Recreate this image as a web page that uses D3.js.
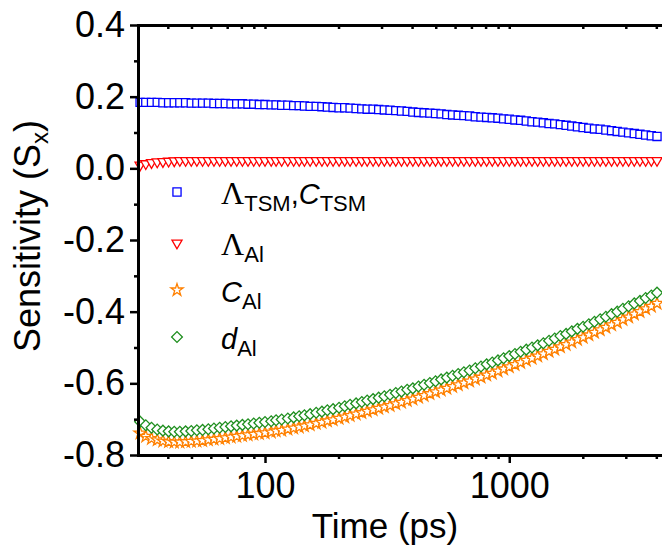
<!DOCTYPE html>
<html>
<head>
<meta charset="utf-8">
<script src="https://cdn.jsdelivr.net/npm/d3@7"></script>
<style>
  body { margin: 0; background: #fff; }
  svg { display: block; }
</style>
</head>
<body>
<div id="chart"></div>
<script>
// time points (ps) of the markers
const times = [30.8,32.5,34.3,36.2,38.2,40.3,42.5,44.8,47.3,49.9,52.6,55.5,58.6,61.8,65.2,68.8,72.6,76.6,80.8,85.2,89.9,94.8,
  100,106,111,117,124,131,138,145,153,162,171,180,190,201,212,223,236,249,262,277,292,308,325,343,362,382,403,425,448,473,499,526,555,586,618,652,688,726,766,808,852,899,948,
  1000,1055,1113,1174,1239,1307,1379,1455,1535,1619,1709,1803,1902,2006,2117,2233,2356,2486,2623,2767,2919,3080,3249,3428,3617,3816,4026];

const sLambdaTSM = [
  0.184,0.184,0.184,0.184,0.183,0.183,0.183,0.183,0.183,0.182,
  0.182,0.182,0.182,0.181,0.181,0.181,0.180,0.180,0.180,0.179,
  0.179,0.178,0.178,0.177,0.177,0.176,0.176,0.175,0.175,0.174,
  0.173,0.173,0.172,0.171,0.170,0.169,0.169,0.168,0.167,0.166,
  0.165,0.165,0.164,0.163,0.162,0.161,0.160,0.159,0.157,0.156,
  0.155,0.154,0.153,0.152,0.150,0.149,0.148,0.147,0.146,0.144,
  0.143,0.142,0.141,0.140,0.138,0.137,0.135,0.134,0.132,0.130,
  0.129,0.127,0.125,0.124,0.122,0.120,0.118,0.116,0.114,0.112,
  0.110,0.109,0.107,0.105,0.103,0.101,0.099,0.097,0.095,0.093,
  0.091,0.089];

const sLambdaAl = [
  0.009,0.013,0.016,0.018,0.019,0.020,0.021,0.022,0.022,0.022,
  0.022,0.022,0.022,0.022,0.022,0.022,0.022,0.022,0.022,0.022,
  0.022,0.022,0.022,0.022,0.022,0.022,0.022,0.022,0.022,0.022,
  0.022,0.022,0.022,0.022,0.022,0.022,0.022,0.022,0.022,0.022,
  0.022,0.022,0.022,0.022,0.022,0.022,0.022,0.022,0.022,0.022,
  0.022,0.022,0.022,0.022,0.022,0.022,0.022,0.022,0.022,0.022,
  0.022,0.022,0.022,0.022,0.022,0.022,0.022,0.022,0.022,0.022,
  0.022,0.022,0.022,0.022,0.022,0.022,0.022,0.022,0.022,0.022,
  0.022,0.022,0.022,0.022,0.022,0.022,0.022,0.022,0.022,0.022,
  0.022,0.022];

const sCAl = [
  -0.739,-0.748,-0.754,-0.758,-0.761,-0.763,-0.764,-0.764,-0.763,-0.762,
  -0.761,-0.760,-0.758,-0.756,-0.754,-0.752,-0.750,-0.748,-0.746,-0.744,
  -0.742,-0.740,-0.738,-0.736,-0.733,-0.731,-0.728,-0.725,-0.722,-0.719,
  -0.716,-0.712,-0.709,-0.705,-0.702,-0.698,-0.694,-0.690,-0.686,-0.682,
  -0.678,-0.674,-0.670,-0.666,-0.662,-0.657,-0.653,-0.648,-0.644,-0.639,
  -0.634,-0.629,-0.624,-0.619,-0.614,-0.609,-0.604,-0.599,-0.594,-0.588,
  -0.583,-0.577,-0.572,-0.566,-0.560,-0.554,-0.548,-0.542,-0.536,-0.530,
  -0.524,-0.518,-0.511,-0.505,-0.498,-0.492,-0.485,-0.478,-0.472,-0.465,
  -0.458,-0.451,-0.444,-0.437,-0.430,-0.422,-0.415,-0.407,-0.400,-0.392,
  -0.385,-0.377];

const sDAl = [
  -0.707,-0.717,-0.724,-0.729,-0.732,-0.734,-0.735,-0.735,-0.734,-0.733,
  -0.731,-0.730,-0.728,-0.726,-0.724,-0.722,-0.720,-0.718,-0.716,-0.714,
  -0.712,-0.710,-0.708,-0.706,-0.703,-0.701,-0.698,-0.695,-0.692,-0.689,
  -0.686,-0.682,-0.679,-0.675,-0.672,-0.668,-0.664,-0.660,-0.656,-0.652,
  -0.648,-0.644,-0.640,-0.636,-0.632,-0.627,-0.623,-0.618,-0.614,-0.609,
  -0.604,-0.599,-0.594,-0.589,-0.584,-0.579,-0.574,-0.569,-0.564,-0.558,
  -0.553,-0.547,-0.542,-0.536,-0.530,-0.524,-0.518,-0.512,-0.506,-0.500,
  -0.494,-0.488,-0.481,-0.475,-0.468,-0.462,-0.455,-0.448,-0.442,-0.435,
  -0.428,-0.421,-0.414,-0.407,-0.400,-0.392,-0.385,-0.377,-0.370,-0.362,
  -0.355,-0.347];

const xMajor = [100, 1000];
const xMinor = [40,50,60,70,80,90,200,300,400,500,600,700,800,900,2000,3000,4000];
const yMajor = [-0.8,-0.6,-0.4,-0.2,0.0,0.2,0.4];
const yMinor = [-0.7,-0.5,-0.3,-0.1,0.1,0.3];

const sans = "'Liberation Sans', Arial, sans-serif";
const serif = "'Liberation Serif', 'Times New Roman', serif";

const width = 662, height = 550;
const margin = {left: 138, top: 25, right: 662, bottom: 455};

const svg = d3.select("#chart").append("svg")
  .attr("width", width)
  .attr("height", height);

const x = d3.scaleLog().domain([30.2, 4220]).range([margin.left, margin.right]);
const y = d3.scaleLinear().domain([-0.8, 0.4]).range([margin.bottom, margin.top]);

// symbols
const series = [
  {vals: sLambdaTSM, color: "#0000ff", path: d3.symbol().type(d3.symbolSquare).size(66)(), rot: 0},
  {vals: sLambdaAl, color: "#ff0000", path: d3.symbol().type(d3.symbolTriangle).size(44)(), rot: 180},
  {vals: sCAl, color: "#ff8000", path: d3.symbol().type(d3.symbolStar).size(46)(), rot: 0},
  {vals: sDAl, color: "#1f8f1f", path: d3.symbol().type(d3.symbolSquare).size(58)(), rot: 45}
];

const plot = svg.append("g");
series.forEach(s => {
  plot.append("g")
    .selectAll("path")
    .data(times.map((t, i) => [t, s.vals[i]]))
    .join("path")
    .attr("d", s.path)
    .attr("transform", d => `translate(${x(d[0])},${y(d[1])}) rotate(${s.rot})`)
    .attr("fill", "#fff")
    .attr("stroke", s.color)
    .attr("stroke-width", 1.3);
});

// axes
function styleAxis(g) {
  g.attr("font-family", sans).attr("font-size", 36);
  g.select(".domain").attr("stroke-width", 3).attr("stroke-linecap", "square");
  g.selectAll(".tick line").attr("stroke-width", 2.5);
  g.selectAll(".tick text").attr("fill", "#000");
}

svg.append("g")
  .attr("transform", `translate(0,${margin.bottom})`)
  .call(d3.axisBottom(x).tickValues(xMinor).tickSize(4).tickSizeOuter(0).tickFormat(""))
  .call(g => g.select(".domain").remove())
  .call(g => g.selectAll(".tick line").attr("stroke-width", 2.5));

svg.append("g")
  .attr("transform", `translate(0,${margin.bottom})`)
  .call(d3.axisBottom(x).tickValues(xMajor).tickSize(8).tickSizeOuter(0).tickPadding(9).tickFormat(d3.format("d")))
  .call(styleAxis);

svg.append("g")
  .attr("transform", `translate(0,${margin.top})`)
  .call(d3.axisTop(x).tickValues(xMinor.concat(xMajor)).tickSize(-4).tickSizeOuter(0).tickFormat(""))
  .call(styleAxis);

svg.append("g")
  .attr("transform", `translate(${margin.left},0)`)
  .call(d3.axisLeft(y).tickValues(yMinor).tickSize(4).tickSizeOuter(0).tickFormat(""))
  .call(g => g.select(".domain").remove())
  .call(g => g.selectAll(".tick line").attr("stroke-width", 2.5));

svg.append("g")
  .attr("transform", `translate(${margin.left},0)`)
  .call(d3.axisLeft(y).tickValues(yMajor).tickSize(8).tickSizeOuter(0).tickPadding(5)
    .tickFormat(d => d3.format(".1f")(d).replace("\u2212", "-")))
  .call(styleAxis);

// axis titles
svg.append("text")
  .attr("x", 385)
  .attr("y", 538)
  .attr("text-anchor", "middle")
  .attr("font-family", sans)
  .attr("font-size", 35)
  .text("Time (ps)");

const yTitle = svg.append("text")
  .attr("transform", "translate(40,236) rotate(-90)")
  .attr("text-anchor", "middle")
  .attr("font-family", sans)
  .attr("font-size", 36);
yTitle.append("tspan").text("Sensitivity (S");
yTitle.append("tspan").attr("font-size", 24).attr("dy", 8).text("x");
yTitle.append("tspan").attr("dy", -8).text(")");

// legend
const legendRows = [
  [{t: "Λ", serif: true}, {t: "TSM", sub: true}, {t: ","}, {t: "C", italic: true}, {t: "TSM", sub: true}],
  [{t: "Λ", serif: true}, {t: "Al", sub: true}],
  [{t: "C", italic: true}, {t: "Al", sub: true}],
  [{t: "d", italic: true}, {t: "Al", sub: true}]
];
const legendY = [192, 243, 290, 337];

legendRows.forEach((parts, i) => {
  const s = series[i];
  svg.append("path")
    .attr("d", s.path)
    .attr("transform", `translate(177,${legendY[i]}) rotate(${s.rot})`)
    .attr("fill", "#fff")
    .attr("stroke", s.color)
    .attr("stroke-width", 1.3);
  const txt = svg.append("text")
    .attr("x", 221)
    .attr("y", legendY[i] + 11.5)
    .attr("font-family", sans)
    .attr("font-size", 29);
  let down = false;
  parts.forEach(p => {
    const ts = txt.append("tspan").text(p.t);
    if (p.serif) ts.attr("font-family", serif).attr("font-size", 32);
    if (p.italic) ts.attr("font-style", "italic");
    if (p.sub) {
      ts.attr("font-size", 22);
      if (!down) { ts.attr("dy", 7); down = true; }
    } else if (down) {
      ts.attr("dy", -7); down = false;
    }
  });
});
</script>
</body>
</html>
